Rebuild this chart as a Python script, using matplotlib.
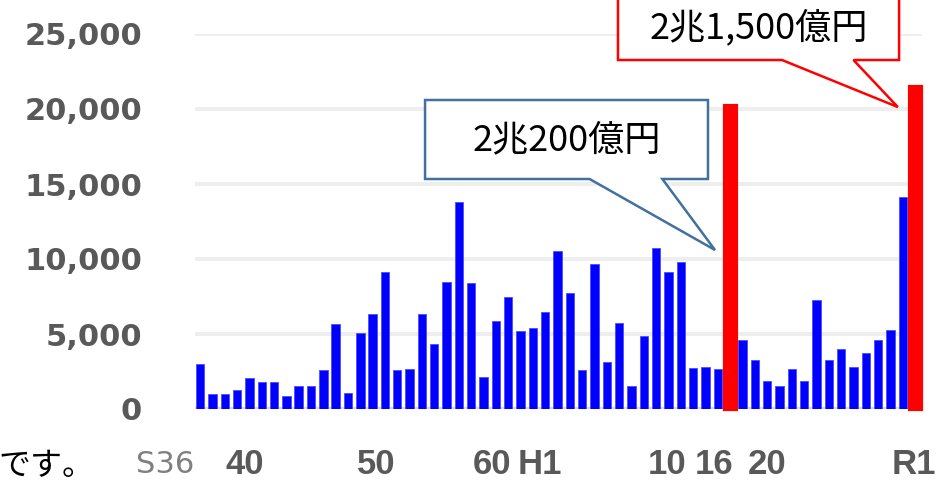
import matplotlib
matplotlib.use('Agg')
import matplotlib.pyplot as plt
from matplotlib.patches import Polygon

plt.rcParams['font.family'] = ['Noto Sans CJK JP', 'DejaVu Sans']

# 年別の値（億円）S36(1961)〜R1(2019)
years = list(range(1961, 2020))
values = [3000, 1000, 1000, 1300, 2100, 1800, 1800, 850, 1550, 1550,
          2600, 5650, 1100, 5050, 6350, 9150, 2600, 2700, 6350, 4350,
          8450, 13800, 8400, 2150, 5850, 7500, 5200, 5400, 6450, 10550,
          7750, 2600, 9700, 3150, 5750, 1550, 4900, 10750, 9150, 9800,
          2750, 2800, 2700, 20200, 4600, 3300, 1900, 1550, 2700, 1900,
          7250, 3300, 4000, 2800, 3750, 4600, 5300, 14100, 21500]
highlight_years = [2004, 2019]
highlight_labels = ['2兆200億円', '2兆1,500億円']

# x軸ラベル（元画像の位置に合わせる）
tick_pos = [1958.2, 1964.6, 1975.3, 1984.7, 1988.6, 1998.9, 2002.7, 2007.0, 2018.9]
tick_text = ['S36', '40', '50', '60', 'H1', '10', '16', '20', 'R1']
y_ticks = [0, 5000, 10000, 15000, 20000, 25000]

fig = plt.figure(figsize=(9.52, 4.91), dpi=100)
ax = fig.add_axes([195 / 952, 1 - 409 / 491, 727 / 952, 375 / 491])

blue_x = [y for y in years if y not in highlight_years]
blue_v = [v for y, v in zip(years, values) if y not in highlight_years]
red_x = [y for y in years if y in highlight_years]
red_v = [v for y, v in zip(years, values) if y in highlight_years]

ax.bar(blue_x, blue_v, width=0.68, color='#0000FF', edgecolor='#4D4DFF',
       linewidth=0.6, zorder=2)
ax.bar(red_x, red_v, width=0.9, color='#FF0000', edgecolor='#FF0000',
       linewidth=3, zorder=3, clip_on=False)

for g in y_ticks[1:]:
    ax.axhline(g, color='#EEEEEE', lw=2.8, zorder=0)
ax.axhline(0, color='#D9D9D9', lw=3, zorder=1)

ax.set_xlim(1960.59, 2019.56)
ax.set_ylim(0, 25000)
for s in ax.spines.values():
    s.set_visible(False)

ax.set_yticks(y_ticks)
ax.set_yticklabels([f'{v:,}' for v in y_ticks], family='DejaVu Sans',
                   fontsize=22, fontweight='bold', color='#595959')
ax.set_xticks([])
ax.tick_params(axis='y', length=0, pad=38)

# x軸ラベルは位置がずれているので個別に置く
xlab = ax.get_xaxis_transform()
for pos, lab in zip(tick_pos, tick_text):
    if lab == 'S36':
        ax.text(pos, -0.149, lab, transform=xlab, ha='center', va='center',
                fontsize=22, color='#7F7F7F', family='DejaVu Sans',
                clip_on=False)
    else:
        ax.text(pos, -0.149, lab, transform=xlab, ha='center', va='center',
                fontsize=25, fontweight='bold', color='#595959',
                family='Liberation Sans', clip_on=False)


def callout(box, tail, tip, color, text, text_xy):
    x0, x1, y0, y1 = box
    pts = [(x0, y1), (x1, y1), (x1, y0), (tail[1], y0), tip,
           (tail[0], y0), (x0, y0)]
    ax.add_patch(Polygon(pts, closed=True, facecolor='white', edgecolor=color,
                         lw=1.8, zorder=5, clip_on=False))
    ax.text(text_xy[0], text_xy[1], text, ha='center', va='center',
            fontsize=26, color='black', zorder=6, clip_on=False)


callout((1979.25, 2002.2, 15333, 20600), (1992.6, 1998.5), (2002.77, 10600),
        '#41719C', highlight_labels[0], (1990.7, 17900))
callout((1994.9, 2017.7, 23267, 28400), (2008.2, 2014.0), (2017.6, 20130),
        '#FF0000', highlight_labels[1], (2006.3, 25400))

fig.text(-0.002, 1 - 466 / 491, 'です。', ha='left', va='center',
         fontsize=23, color='black')

fig.savefig('out.png', dpi=100)
